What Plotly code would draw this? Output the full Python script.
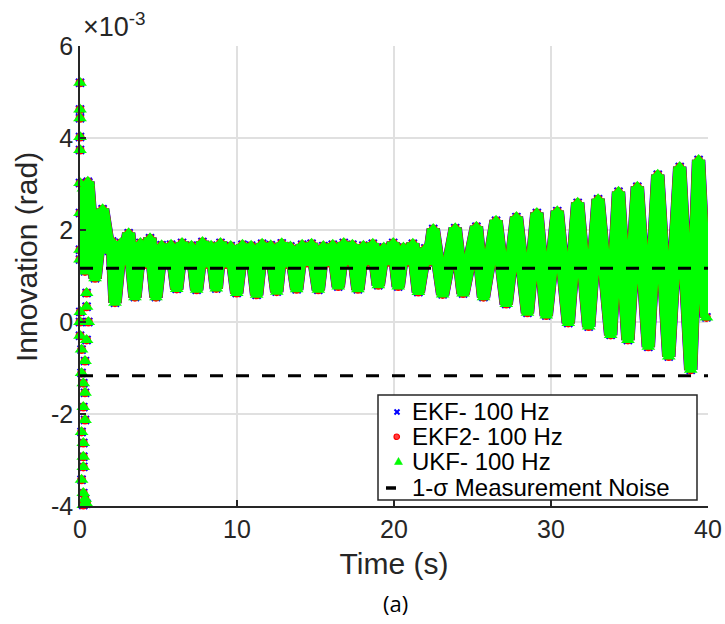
import plotly.graph_objects as go

# ---- data (innovation in units of 1e-3 rad) ----
# early transient samples (markers only)
early_t = [0.0, 0.0, 0.0, 0.0, 0.0, 0.0, 0.53, 0.0, 0.0, 0.0, 0.42, 0.42, 0.02, 0.0, 0.53,
           0.0, 0.42, 0.1, 0.32, 0.1, 0.21, 0.32, 0.21, 0.32, 0.1, 0.21, 0.21, 0.21, 0.1,
           0.21, 0.32, 0.42, 0.21]
early_v = [5.2, 4.62, 4.43, 4.02, 3.74, 3.02, 3.02, 2.37, 1.57, 1.36, 0.63, 0.33, 0.22, 0.0, 0.0,
           -0.3, -0.39, -0.6, -0.85, -1.11, -1.33, -1.54, -1.85, -2.13, -2.39, -2.63, -2.93, -3.15, -3.43,
           -3.72, -3.85, -3.95, -3.98]

# successive extremes of the oscillating innovation (peaks / troughs)
ext_t = [0.22, 0.32, 0.5, 0.96, 1.44, 1.85, 2.05, 2.23,
         2.6, 2.8, 3.1, 3.5,
         3.85, 4.15, 4.46, 4.84,
         5.2, 5.5, 5.8, 6.16,
         6.5, 6.8, 7.1, 7.43,
         7.8, 8.1, 8.35, 8.68,
         8.95, 9.3, 9.6, 9.98,
         10.35, 10.65, 10.9, 11.25,
         11.6, 11.9, 12.15, 12.53,
         12.85, 13.15, 13.4, 13.8,
         14.15, 14.45, 14.75, 15.18,
         15.5, 15.8, 16.1, 16.45,
         16.8, 17.1, 17.35, 17.7,
         18.05, 18.35, 18.65, 19.0,
         19.35, 19.65, 19.95, 20.27,
         20.6, 20.9, 21.2, 21.55,
         22.0, 22.2, 22.5, 23.1,
         23.9, 24.4, 25.25, 25.7, 26.5, 27.15, 27.8, 28.5, 29.1, 29.7,
         30.4, 31.1, 31.7, 32.4, 33.0, 33.8, 34.3, 34.9, 35.5, 36.2,
         36.8, 37.5, 38.2, 38.9, 39.4, 39.9]
ext_v = [2.9, 1.1, 3.05, 0.95, 2.45, 1.55, 1.75, 0.42,
         1.72, 1.3, 1.93, 0.54,
         1.72, 1.25, 1.82, 0.54,
         1.67, 1.25, 1.68, 0.72,
         1.72, 1.25, 1.66, 0.70,
         1.74, 1.25, 1.66, 0.73,
         1.72, 1.25, 1.65, 0.63,
         1.68, 1.25, 1.66, 0.59,
         1.70, 1.25, 1.67, 0.66,
         1.71, 1.25, 1.64, 0.71,
         1.68, 1.28, 1.70, 0.70,
         1.65, 1.28, 1.68, 0.77,
         1.72, 1.30, 1.68, 0.71,
         1.66, 1.30, 1.70, 0.80,
         1.62, 1.30, 1.72, 0.77,
         1.62, 1.30, 1.70, 0.65,
         1.60, 1.30, 2.02, 0.60,
         2.04, 0.62, 2.07, 0.54, 2.20, 0.39, 2.28, 0.20, 2.37, 0.14,
         2.41, -0.02, 2.59, -0.10, 2.67, -0.28, 2.83, -0.39, 2.94, -0.54,
         3.20, -0.75, 3.37, -1.04, 3.52, 0.10]

sigma_t = [0, 40]
sigma_level = 1.17

x_ticks = [0, 10, 20, 30, 40]
y_ticks = [-4, -2, 0, 2, 4, 6]
y_ticktext = ["-4", "-2", "0", "2", "4", "6"]

names = ["EKF- 100 Hz", "EKF2- 100 Hz", "UKF- 100 Hz"]
sigma_name = "1-σ Measurement Noise"
colors = ["#0000ff", "#ff0000", "#00ff00"]

AX = "#262626"
FONT = "Liberation Sans, Arial, sans-serif"

# plot-area geometry (pixels) used to place the hand-made legend
L, R, T, B = 80, 708, 46, 506
W, H = 725, 624


def px(xp):
    return (xp - L) / (R - L)


def py(yp):
    return (B - yp) / (B - T)


fig = go.Figure()

styles = [
    dict(width=13.5, marker=dict(color=colors[0], size=8, symbol="x-thin",
                                 line=dict(color=colors[0], width=2))),
    dict(width=13, marker=dict(color=colors[1], size=9, symbol="circle")),
    dict(width=12.5, marker=dict(color=colors[2], size=12, symbol="triangle-up")),
]
for name, col, st in zip(names, colors, styles):
    fig.add_trace(go.Scatter(x=early_t, y=early_v, mode="markers", marker=st["marker"],
                             name=name, showlegend=False, cliponaxis=False, hoverinfo="skip"))
    fig.add_trace(go.Scatter(x=ext_t, y=ext_v, mode="lines+markers",
                             line=dict(color=col, width=st["width"]), marker=st["marker"],
                             name=name, showlegend=False, cliponaxis=False, hoverinfo="skip"))

for lvl in (sigma_level, -sigma_level):
    fig.add_trace(go.Scatter(x=sigma_t, y=[lvl, lvl], mode="lines", name=sigma_name,
                             line=dict(color="black", width=3, dash="13px,13px"),
                             showlegend=False, hoverinfo="skip"))

# ---- hand-made legend (box, symbols, labels) ----
shapes = [
    dict(type="rect", xref="paper", yref="paper", x0=px(378), x1=px(697), y0=py(500), y1=py(395),
         fillcolor="white", line=dict(color=AX, width=1.5), layer="above"),
    # blue x
    dict(type="line", xref="paper", yref="paper", x0=px(394.5), x1=px(399.5), y0=py(409.5), y1=py(414.5),
         line=dict(color="#0000ff", width=2), layer="above"),
    dict(type="line", xref="paper", yref="paper", x0=px(394.5), x1=px(399.5), y0=py(414.5), y1=py(409.5),
         line=dict(color="#0000ff", width=2), layer="above"),
    # red circle
    dict(type="circle", xref="paper", yref="paper", x0=px(394), x1=px(399.5), y0=py(439.5), y1=py(434),
         fillcolor="#ff4040", line=dict(color="#ff0000", width=1.2), layer="above"),
    # green triangle
    dict(type="path", xref="paper", yref="paper",
         path="M {} {} L {} {} L {} {} Z".format(px(394.5), py(464.5), px(402.5), py(464.5),
                                                  px(398.5), py(457.5)),
         fillcolor="#00ff00", line=dict(color="#00ee00", width=0.5), layer="above"),
    # black dash
    dict(type="line", xref="paper", yref="paper", x0=px(386), x1=px(396), y0=py(488), y1=py(488),
         line=dict(color="black", width=3.5), layer="above"),
]

leg_rows = [411, 436, 461, 487]
annotations = []
for lab, yr in zip(names + [sigma_name], leg_rows):
    annotations.append(dict(text=lab, xref="paper", yref="paper", x=px(411), y=py(yr),
                            xanchor="left", yanchor="middle", showarrow=False, borderpad=0,
                            font=dict(size=24, color="black", family=FONT)))

annotations += [
    dict(text="Innovation (rad)", textangle=-90, xref="paper", yref="paper",
         x=px(26), y=py(257), xanchor="center", yanchor="middle", showarrow=False,
         font=dict(size=30, color=AX, family=FONT)),
    dict(text="×10<sup>-3</sup>", xref="paper", yref="paper", x=px(81), y=py(44),
         xanchor="left", yanchor="bottom", showarrow=False,
         font=dict(size=27, color=AX, family=FONT)),
    dict(text="(a)", xref="paper", yref="paper", x=px(395), y=py(603),
         xanchor="center", yanchor="middle", showarrow=False,
         font=dict(size=22, color="black", family="Open Sans, sans-serif")),
]

fig.update_layout(
    width=W, height=H,
    margin=dict(l=L, r=W - R, t=T, b=H - B, autoexpand=False),
    paper_bgcolor="white", plot_bgcolor="white",
    font=dict(family=FONT, color=AX),
    showlegend=False,
    xaxis=dict(range=[0, 40], tickvals=x_ticks, showgrid=True, gridcolor="#e0e0e0", gridwidth=1.5,
               showline=True, linecolor=AX, linewidth=1.5, ticks="inside", ticklen=6,
               tickcolor=AX, tickwidth=1.5, tickfont=dict(size=25, color=AX), zeroline=False,
               automargin=False,
               title=dict(text="Time (s)", font=dict(size=30, color=AX), standoff=11)),
    yaxis=dict(range=[-4, 6], tickvals=y_ticks, ticktext=y_ticktext, showgrid=True,
               gridcolor="#e0e0e0", gridwidth=1.5, automargin=False,
               showline=True, linecolor=AX, linewidth=1.5, ticks="inside", ticklen=6,
               tickcolor=AX, tickwidth=1.5, tickfont=dict(size=25, color=AX), zeroline=False),
    shapes=shapes,
    annotations=annotations,
)

fig.write_html("out.html", config={"displayModeBar": False},
               post_script="document.body.style.margin='0';")
